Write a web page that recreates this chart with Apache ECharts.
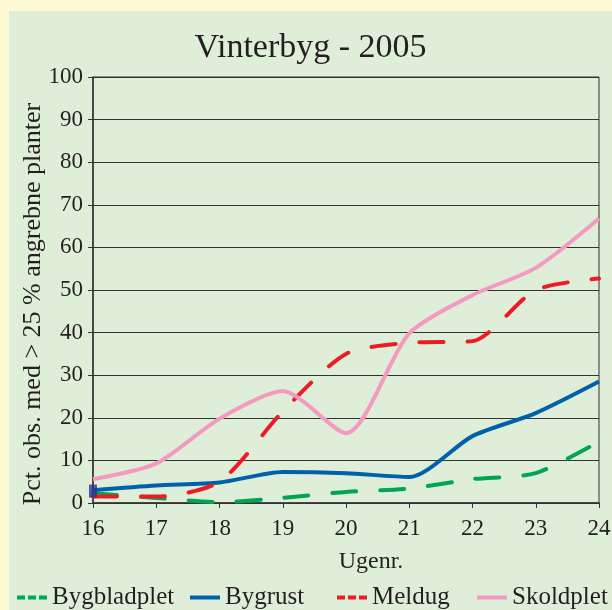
<!DOCTYPE html>
<html>
<head>
<meta charset="utf-8">
<script src="https://cdn.jsdelivr.net/npm/echarts@6/dist/echarts.min.js"></script>
<style>
  html, body { margin: 0; padding: 0; background: #FFFAD5; }
  #chart {
    position: absolute;
    left: 9px;
    top: 11px;
    width: 603px;
    height: 599px;
    background: #DFEED9;
  }
</style>
</head>
<body>
<div id="chart"></div>
<script>
// uger (x-akse)
const weeks = [16, 17, 18, 19, 20, 21, 22, 23, 24];

// pct. obs. med > 25 % angrebne planter
const bygbladplet = [2.3, 1.2, 0.2, 1.2, 2.6, 3.4, 5.6, 7.0, 14.4];
const bygrust     = [3.0, 4.1, 4.8, 7.3, 7.0, 6.1, 15.7, 21.1, 28.5];
const meldug      = [1.5, 1.5, 5.0, 21.5, 35.0, 37.6, 38.0, 50.0, 52.7];
const skoldplet   = [5.6, 9.3, 19.8, 26.3, 16.4, 39.8, 48.8, 55.2, 66.8];

// den lille firkant ved uge 16
const startMarker = [[16, 2.8]];

const FONT = "'Liberation Serif', 'Times New Roman', serif";
const TXT = "#231F20";
const dashIcon = "path://M0,0H8V4H0Z M11,0H19V4H11Z M22,0H30V4H22Z";

function pairs(vals) {
  return weeks.map((w, i) => [w, vals[i]]);
}

function legendAt(name, left, icon) {
  return {
    data: [{ name: name, icon: icon }],
    left: left,
    top: 574,
    padding: 0,
    itemWidth: 30,
    itemHeight: 4,
    itemGap: 0,
    itemStyle: { borderWidth: 0 },
    textStyle: { fontFamily: FONT, fontSize: 25, color: TXT },
  };
}

let myChart = echarts.init(document.getElementById("chart"));
myChart.setOption({
  animation: false,
  title: {
    text: "Vinterbyg - 2005",
    left: "center",
    top: 15,
    textStyle: { fontFamily: FONT, fontSize: 34, fontWeight: "normal", color: TXT },
  },
  grid: {
    left: 84,
    right: 13,
    top: 66,
    bottom: 107,
    outerBoundsMode: "none",
    show: true,
    borderColor: "#333",
    borderWidth: 1,
    backgroundColor: "transparent",
  },
  legend: [
    legendAt("Bygbladplet", 8, dashIcon),
    legendAt("Bygrust", 181, "rect"),
    legendAt("Meldug", 328, dashIcon),
    legendAt("Skoldplet", 468, "rect"),
  ],
  xAxis: {
    type: "value",
    min: 16,
    max: 24,
    interval: 1,
    name: "Ugenr.",
    nameLocation: "middle",
    nameGap: 47,
    nameMoveOverlap: false,
    nameTextStyle: { fontFamily: FONT, fontSize: 24, color: TXT, padding: [0, 0, 0, 50] },
    axisLine: { lineStyle: { color: "#333", width: 1.5 } },
    axisTick: { show: true, length: 5, lineStyle: { color: "#333" } },
    axisLabel: { fontFamily: FONT, fontSize: 23, color: TXT, margin: 14 },
    splitLine: { show: false },
  },
  yAxis: {
    type: "value",
    min: 0,
    max: 100,
    interval: 10,
    name: "Pct. obs. med > 25 % angrebne planter",
    nameLocation: "middle",
    nameGap: 47,
    nameMoveOverlap: false,
    nameTextStyle: { fontFamily: FONT, fontSize: 26, color: TXT, padding: [0, 28, 0, 0] },
    axisLine: { show: true, lineStyle: { color: "#333", width: 1.5 } },
    axisTick: { show: true, length: 5, lineStyle: { color: "#333" } },
    axisLabel: { fontFamily: FONT, fontSize: 23, color: TXT, margin: 10 },
    splitLine: { show: true, lineStyle: { color: "#333", width: 1 } },
  },
  series: [
    {
      name: "Bygbladplet",
      type: "line",
      data: pairs(bygbladplet),
      color: "#00A651",
      showSymbol: false,
      smooth: 0.25,
      lineStyle: { width: 4, type: [24, 24], cap: "round" },
    },
    {
      name: "Bygrust",
      type: "line",
      data: pairs(bygrust),
      color: "#0061AB",
      showSymbol: false,
      smooth: 0.25,
      lineStyle: { width: 4 },
    },
    {
      name: "Meldug",
      type: "line",
      data: pairs(meldug),
      color: "#ED1C24",
      showSymbol: false,
      smooth: 0.25,
      lineStyle: { width: 4, type: [24, 24], cap: "round" },
    },
    {
      name: "Skoldplet",
      type: "line",
      data: pairs(skoldplet),
      color: "#F49AC1",
      showSymbol: false,
      smooth: 0.25,
      lineStyle: { width: 4 },
    },
    {
      name: "start",
      type: "scatter",
      data: startMarker,
      symbol: "rect",
      symbolSize: [8, 13],
      color: "#2E3192",
      z: 5,
    },
  ],
});
</script>
</body>
</html>
